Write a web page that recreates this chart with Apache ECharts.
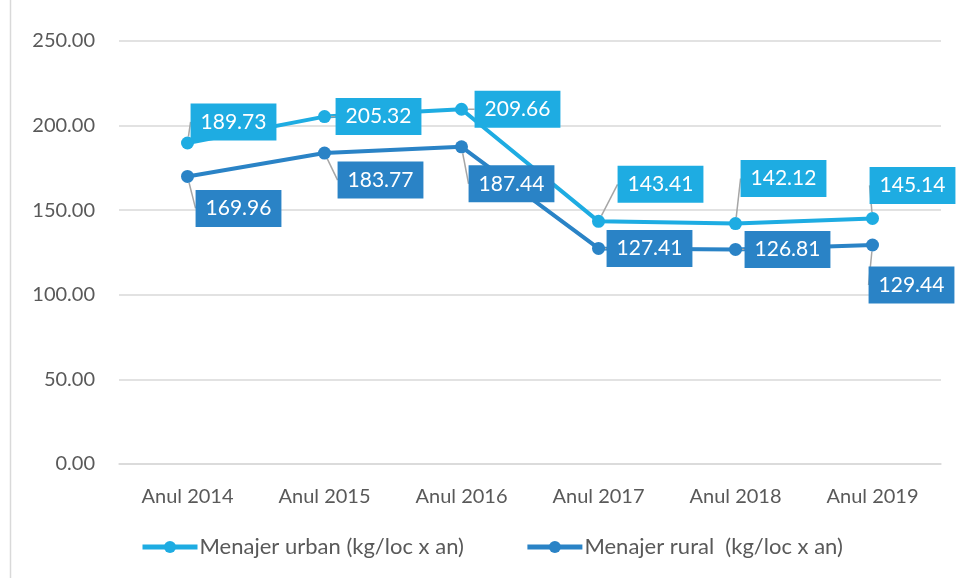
<!DOCTYPE html>
<html>
<head>
<meta charset="utf-8">
<script src="https://cdn.jsdelivr.net/npm/echarts@6/dist/echarts.min.js"></script>
<style>
  html, body { margin: 0; padding: 0; background: #fff; }
  #chart { width: 957px; height: 578px; }
</style>
</head>
<body>
<div id="chart"></div>
<script>
// categorii si valori
const years = ['Anul 2014', 'Anul 2015', 'Anul 2016', 'Anul 2017', 'Anul 2018', 'Anul 2019']
const urban = [189.73, 205.32, 209.66, 143.41, 142.12, 145.14]
const rural = [169.96, 183.77, 187.44, 127.41, 126.81, 129.44]
const urbanName = 'Menajer urban (kg/loc x an)'
const ruralName = 'Menajer rural  (kg/loc x an)'

// deplasarea etichetelor fata de punct (px)
const urbanShift = [[46, -21], [54, 0], [56, 0], [62, -37], [48, -45], [40, -33]]
const ruralShift = [[51, 32], [56, 27], [50, 37], [51, 0], [52, 0], [39, 40]]

const urbanColor = '#1EACE2'
const ruralColor = '#2A83C6'
const textColor = '#595959'
const gridColor = '#D9D9D9'
const font = 'Lato'

const chart = echarts.init(document.getElementById('chart'))

const makeSeries = (name, data, color, shift) => ({
  name: name,
  type: 'line',
  data: data,
  symbol: 'circle',
  symbolSize: 13,
  lineStyle: { width: 4, color: color },
  itemStyle: { color: color, borderWidth: 0 },
  label: {
    show: true,
    position: 'inside',
    formatter: (p) => p.value.toFixed(2),
    color: '#fff',
    fontFamily: font,
    fontSize: 21,
    backgroundColor: color,
    padding: [9, 10, 7, 10]
  },
  labelLine: { show: true, lineStyle: { color: '#A6A6A6', width: 1.5 } },
  labelLayout: (p) => ({ dx: shift[p.dataIndex][0], dy: shift[p.dataIndex][1] })
})

chart.setOption({
  animation: false,
  textStyle: { fontFamily: font },
  graphic: [
    { type: 'line', shape: { x1: 10.5, y1: 0, x2: 10.5, y2: 578 }, style: { stroke: gridColor, lineWidth: 1.5 } }
  ],
  grid: { left: 119, right: 16, top: 41, bottom: 114 },
  legend: {
    left: 135,
    bottom: 15,
    itemWidth: 55,
    itemHeight: 15,
    itemGap: 61,
    lineStyle: { width: 5 },
    textStyle: { color: textColor, fontSize: 22, fontFamily: font, padding: [0, 0, 0, -3] },
    data: [urbanName, ruralName]
  },
  xAxis: {
    type: 'category',
    data: years,
    boundaryGap: true,
    axisLine: { lineStyle: { color: gridColor, width: 1.5 } },
    axisTick: { show: false },
    axisLabel: { color: textColor, fontSize: 20, fontFamily: font, margin: 23 }
  },
  yAxis: {
    type: 'value',
    min: 0,
    max: 250,
    interval: 50,
    axisLine: { show: false },
    axisTick: { show: false },
    splitLine: { lineStyle: { color: gridColor, width: 1.5 } },
    axisLabel: {
      color: textColor,
      fontSize: 20,
      fontFamily: font,
      margin: 24,
      formatter: (v) => v.toFixed(2)
    }
  },
  series: [
    makeSeries(urbanName, urban, urbanColor, urbanShift),
    makeSeries(ruralName, rural, ruralColor, ruralShift)
  ]
})
</script>
</body>
</html>
